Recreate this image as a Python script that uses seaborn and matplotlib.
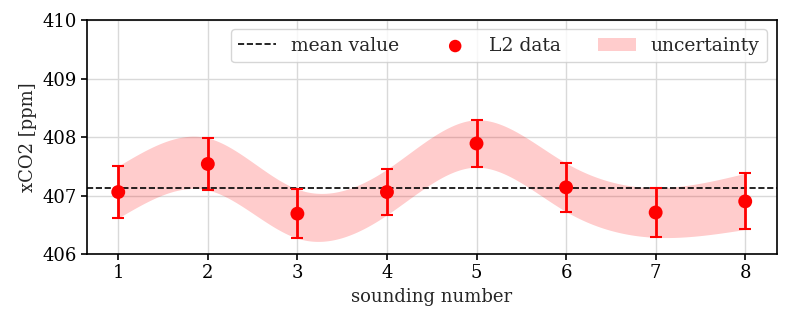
import numpy as np
import matplotlib
matplotlib.use("Agg")
import matplotlib.pyplot as plt
import seaborn as sns

# sounding values
sounding = np.array([1, 2, 3, 4, 5, 6, 7, 8])
xco2 = np.array([407.06, 407.54, 406.69, 407.06, 407.89, 407.14, 406.71, 406.90])
xco2_err = np.array([0.445, 0.445, 0.42, 0.39, 0.405, 0.415, 0.425, 0.48])


def natural_spline(x, y, xs):
    # plain natural cubic spline, only used to draw the band smoothly
    n = len(x)
    h = np.diff(x).astype(float)
    A = np.zeros((n, n))
    b = np.zeros(n)
    A[0, 0] = 1.0
    A[-1, -1] = 1.0
    for i in range(1, n - 1):
        A[i, i - 1] = h[i - 1]
        A[i, i] = 2 * (h[i - 1] + h[i])
        A[i, i + 1] = h[i]
        b[i] = 6 * ((y[i + 1] - y[i]) / h[i] - (y[i] - y[i - 1]) / h[i - 1])
    M = np.linalg.solve(A, b)
    idx = np.clip(np.searchsorted(x, xs) - 1, 0, n - 2)
    x0, x1 = x[idx], x[idx + 1]
    hh = x1 - x0
    t0 = x1 - xs
    t1 = xs - x0
    return (M[idx] * t0**3 / (6 * hh) + M[idx + 1] * t1**3 / (6 * hh)
            + (y[idx] / hh - M[idx] * hh / 6) * t0
            + (y[idx + 1] / hh - M[idx + 1] * hh / 6) * t1)


sns.set_theme(style="ticks")
plt.rcParams["font.family"] = ["DejaVu Serif"]

fig, ax = plt.subplots(figsize=(7.9, 3.24), dpi=100)

xs = np.linspace(sounding.min(), sounding.max(), 300)
upper = natural_spline(sounding, xco2 + xco2_err, xs)
lower = natural_spline(sounding, xco2 - xco2_err, xs)

ax.axhline(np.mean(xco2), color="black", ls="--", lw=1.2, label="mean value", zorder=3)
ax.errorbar(sounding, xco2, yerr=xco2_err, fmt="none", ecolor="red",
            elinewidth=2, capsize=4, capthick=1.5, zorder=4)
sns.scatterplot(x=sounding, y=xco2, color="red", s=100, edgecolor="none",
                label="L2 data", ax=ax, zorder=5)
ax.fill_between(xs, lower, upper, color="red", alpha=0.2, lw=0, label="uncertainty")

ax.set_ylim(406, 410)
ax.set_yticks([406, 407, 408, 409, 410])
ax.set_xticks(sounding)
ax.grid(True, color="#d9d9d9", lw=1)
ax.set_axisbelow(True)
for s in ax.spines.values():
    s.set_color("black")
    s.set_linewidth(1.2)
ax.tick_params(labelsize=13, colors="black", length=4, width=1.2)
ax.set_xlabel("sounding number", fontsize=13)
ax.set_ylabel("xCO2 [ppm]", fontsize=13)
ax.legend(loc="upper right", ncol=3, fontsize=13.5, frameon=True,
          markerscale=0.9)

fig.subplots_adjust(left=0.11, right=0.983, top=0.938, bottom=0.216)
fig.savefig("out.png", dpi=100)
